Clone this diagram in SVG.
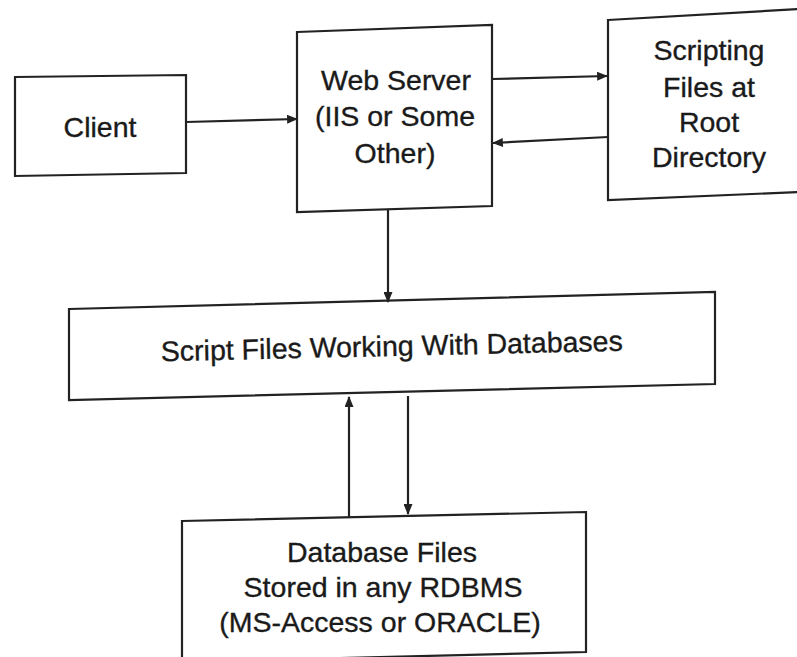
<svg xmlns="http://www.w3.org/2000/svg" width="797" height="657" viewBox="0 0 797 657">
  <style>
    .box { fill: #ffffff; stroke: #222222; stroke-width: 2.2; stroke-linejoin: miter; }
    .lbl { font-family: "Liberation Sans", Arial, sans-serif; font-size: 28.5px; fill: #1a1a1a; stroke: #1a1a1a; stroke-width: 0.35; text-anchor: middle; }
    .conn { fill: none; stroke: #222222; stroke-width: 2.2; }
  </style>
  <defs>
    <marker id="arr" viewBox="0 0 12 10" refX="11" refY="5" markerWidth="12" markerHeight="9" markerUnits="userSpaceOnUse" orient="auto">
      <path d="M0,0 L12,5 L0,10 Z" fill="#222222"/>
    </marker>
  </defs>
  <rect width="797" height="657" fill="#ffffff"/>

  <g id="client">
    <polygon class="box" points="15,77 186,75 186,173 15,176"/>
    <text class="lbl" x="100" y="137">Client</text>
  </g>

  <g id="webserver">
    <polygon class="box" points="297,32 492,25 492,206 297,212"/>
    <text class="lbl" x="396" y="90">Web Server</text>
    <text class="lbl" x="395" y="126">(IIS or Some</text>
    <text class="lbl" x="395" y="163">Other)</text>
  </g>

  <g id="scripting">
    <polygon class="box" points="608,20 800,9 800,192 608,200"/>
    <text class="lbl" x="709" y="60">Scripting</text>
    <text class="lbl" x="709" y="97">Files at</text>
    <text class="lbl" x="709" y="132">Root</text>
    <text class="lbl" x="709" y="167">Directory</text>
  </g>

  <g id="scriptfiles">
    <polygon class="box" points="69,309 715,292 715,384 69,400"/>
    <text class="lbl" x="392" y="356" transform="rotate(-1.3 392 356)">Script Files Working With Databases</text>
  </g>

  <g id="database">
    <polygon class="box" points="182,521 586,512 586,652 182,662"/>
    <text class="lbl" x="382" y="562">Database Files</text>
    <text class="lbl" x="383" y="597">Stored in any RDBMS</text>
    <text class="lbl" x="380" y="632">(MS-Access or ORACLE)</text>
  </g>

  <g id="connectors">
    <line class="conn" x1="186" y1="122" x2="297" y2="119" marker-end="url(#arr)"/>
    <line class="conn" x1="492" y1="79" x2="607" y2="76" marker-end="url(#arr)"/>
    <line class="conn" x1="608" y1="137" x2="493" y2="143" marker-end="url(#arr)"/>
    <line class="conn" x1="388" y1="209" x2="388" y2="302" marker-end="url(#arr)"/>
    <line class="conn" x1="349" y1="518" x2="349" y2="397" marker-end="url(#arr)"/>
    <line class="conn" x1="408" y1="396" x2="408" y2="514" marker-end="url(#arr)"/>
  </g>
</svg>
